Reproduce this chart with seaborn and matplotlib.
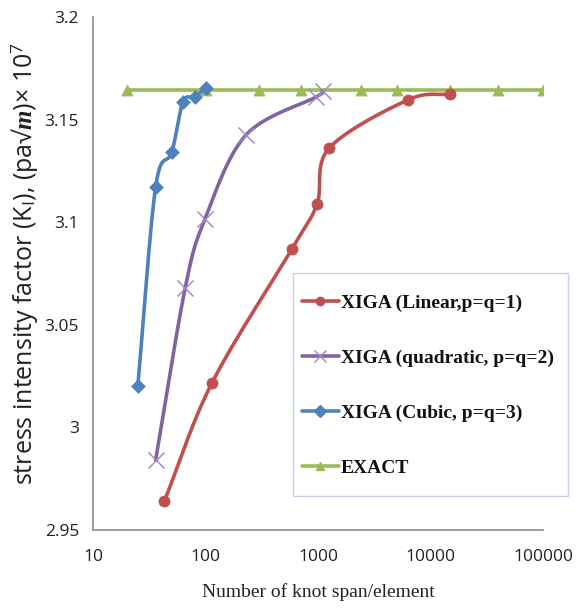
import numpy as np
import pandas as pd
import matplotlib
matplotlib.use("Agg")
import matplotlib.pyplot as plt
from matplotlib.lines import Line2D
from matplotlib.patches import Rectangle
import seaborn as sns

# Convergence data: number of knot spans / elements vs. stress intensity factor (x 1e7)
linear_n = [43, 114, 587, 980, 1253, 6300, 14900]
linear_k = [2.964, 3.0216, 3.087, 3.1089, 3.136, 3.1596, 3.1625]

quad_n = [36, 66, 99, 229, 960, 1100]
quad_k = [2.984, 3.068, 3.1016, 3.1425, 3.1610, 3.1640]

cubic_n = [25, 36, 50, 63, 80, 100]
cubic_k = [3.020, 3.117, 3.134, 3.1586, 3.161, 3.1654]

exact_n = [20, 100, 300, 700, 2400, 5000, 15000, 40000, 100000]
exact_k = [3.1644] * len(exact_n)

series_names = ["XIGA (Linear,p=q=1)", "XIGA (quadratic, p=q=2)",
                "XIGA (Cubic, p=q=3)", "EXACT"]

sns.set_theme(style="white")
plt.rcParams["font.family"] = ["Open Sans", "DejaVu Sans"]
plt.rcParams["mathtext.fontset"] = "custom"
plt.rcParams["mathtext.rm"] = "Open Sans"
plt.rcParams["mathtext.it"] = "Liberation Serif:italic"
plt.rcParams["mathtext.bf"] = "Liberation Serif:bold:italic"

W, H = 576, 609
fig = plt.figure(figsize=(W / 100, H / 100), dpi=100)
ax = fig.add_axes([93 / W, 1 - 530 / H, 450 / W, 513 / H])

X0, X1 = 10, 100000
Y0, Y1 = 2.95, 3.2
ax.set_xscale("log")
ax.set_xlim(X0, X1)
ax.set_ylim(Y0, Y1)


def smooth(xs, ys, steps=30):
    """Catmull-Rom spline through the points, evaluated in screen-like space."""
    u = (np.log10(xs) - np.log10(X0)) / (np.log10(X1) - np.log10(X0)) * 450
    v = (np.asarray(ys) - Y0) / (Y1 - Y0) * 513
    P = np.column_stack([u, v])
    if len(P) < 3:
        return np.asarray(xs), np.asarray(ys)
    ext = np.vstack([2 * P[0] - P[1], P, 2 * P[-1] - P[-2]])
    out = []
    for i in range(1, len(ext) - 2):
        p0, p1, p2, p3 = ext[i - 1], ext[i], ext[i + 1], ext[i + 2]
        t = np.linspace(0, 1, steps, endpoint=False)[:, None]
        seg = 0.5 * ((2 * p1) + (-p0 + p2) * t + (2 * p0 - 5 * p1 + 4 * p2 - p3) * t ** 2
                     + (-p0 + 3 * p1 - 3 * p2 + p3) * t ** 3)
        out.append(seg)
    out.append(P[-1:])
    S = np.vstack(out)
    sx = 10 ** (S[:, 0] / 450 * (np.log10(X1) - np.log10(X0)) + np.log10(X0))
    sy = S[:, 1] / 513 * (Y1 - Y0) + Y0
    return sx, sy


# (x, y, colour, marker, size, marker-edge width, layer)
styles = [
    (linear_n, linear_k, "#C0504D", "o", 8, None, 6),
    (quad_n, quad_k, "#8064A2", "x", 11, 1.0, 5),
    (cubic_n, cubic_k, "#4F81BD", "D", 7, None, 4),
    (exact_n, exact_k, "#9BBB59", "^", 8, None, 2),
]

handles = []
for (xs, ys, col, mk, ms, mew, z), name in zip(styles, series_names):
    sx, sy = smooth(xs, ys)
    curve = pd.DataFrame({"n": sx, "k": sy})
    sns.lineplot(data=curve, x="n", y="k", sort=False, color=col, lw=2.6, ax=ax,
                 estimator=None, zorder=z)
    pts = pd.DataFrame({"n": xs, "k": ys})
    if mk == "x":
        ax.plot(pts["n"], pts["k"], ls="none", marker="x", ms=ms, mew=mew,
                color="#9b86c4", zorder=z + 0.5)
    else:
        sns.scatterplot(data=pts, x="n", y="k", marker=mk, s=ms ** 2, color=col,
                        edgecolor=col, linewidth=0.5, ax=ax, zorder=z + 0.5)
    handles.append(Line2D([0], [0], color=col, lw=2.6, marker=mk,
                          ms=(6 if mk != "x" else 9), mew=(mew or 1),
                          mec=("#9b86c4" if mk == "x" else col)))

# axes styling
for side in ["top", "right"]:
    ax.spines[side].set_visible(False)
for side in ["left", "bottom"]:
    ax.spines[side].set_color("#8c8c8c")
    ax.spines[side].set_linewidth(1.2)

ax.set_yticks([2.95, 3.0, 3.05, 3.1, 3.15, 3.2])
ax.set_yticklabels(["2.95", "3", "3.05", "3.1", "3.15", "3.2"])
ax.set_xticks([10, 100, 1000, 10000, 100000])
ax.set_xticklabels(["10", "100", "1000", "10000", "100000"])
ax.minorticks_off()
ax.tick_params(axis="both", which="major", direction="out", length=6, width=1.2,
               color="#8c8c8c", labelsize=12.5, labelcolor="#222222")
ax.tick_params(axis="x", pad=8)
ax.tick_params(axis="y", pad=4)

ax.set_xlabel("Number of knot span/element", family="Liberation Serif", fontsize=14,
              color="#222222", labelpad=13)
ax.set_ylabel("stress intensity factor (K$_\\mathrm{I}$), (pa\u221a$\\mathbf{m}$)\u00d7 10$^7$",
              fontsize=18, color="#222222")
ax.yaxis.set_label_coords(-0.118, 0.52)

# legend box drawn separately so its padding can differ horizontally / vertically
box = Rectangle((293 / W, 1 - 496 / H), 275 / W, 223 / H,
                transform=fig.transFigure, facecolor="white",
                edgecolor="#c5d2ea", lw=1.0, zorder=7, clip_on=False)
ax.add_patch(box)
leg = ax.legend(handles, series_names, loc="upper left",
                bbox_to_anchor=(302 / W, 1 - 294 / H), bbox_transform=fig.transFigure,
                prop={"family": "Liberation Serif", "weight": "bold", "size": 14},
                frameon=False, handlelength=1.9, handletextpad=0.1,
                labelspacing=1.93, borderpad=0, borderaxespad=0)
leg.set_zorder(8)
for t in leg.get_texts():
    t.set_color("#111111")

fig.savefig("out.png", dpi=100)
